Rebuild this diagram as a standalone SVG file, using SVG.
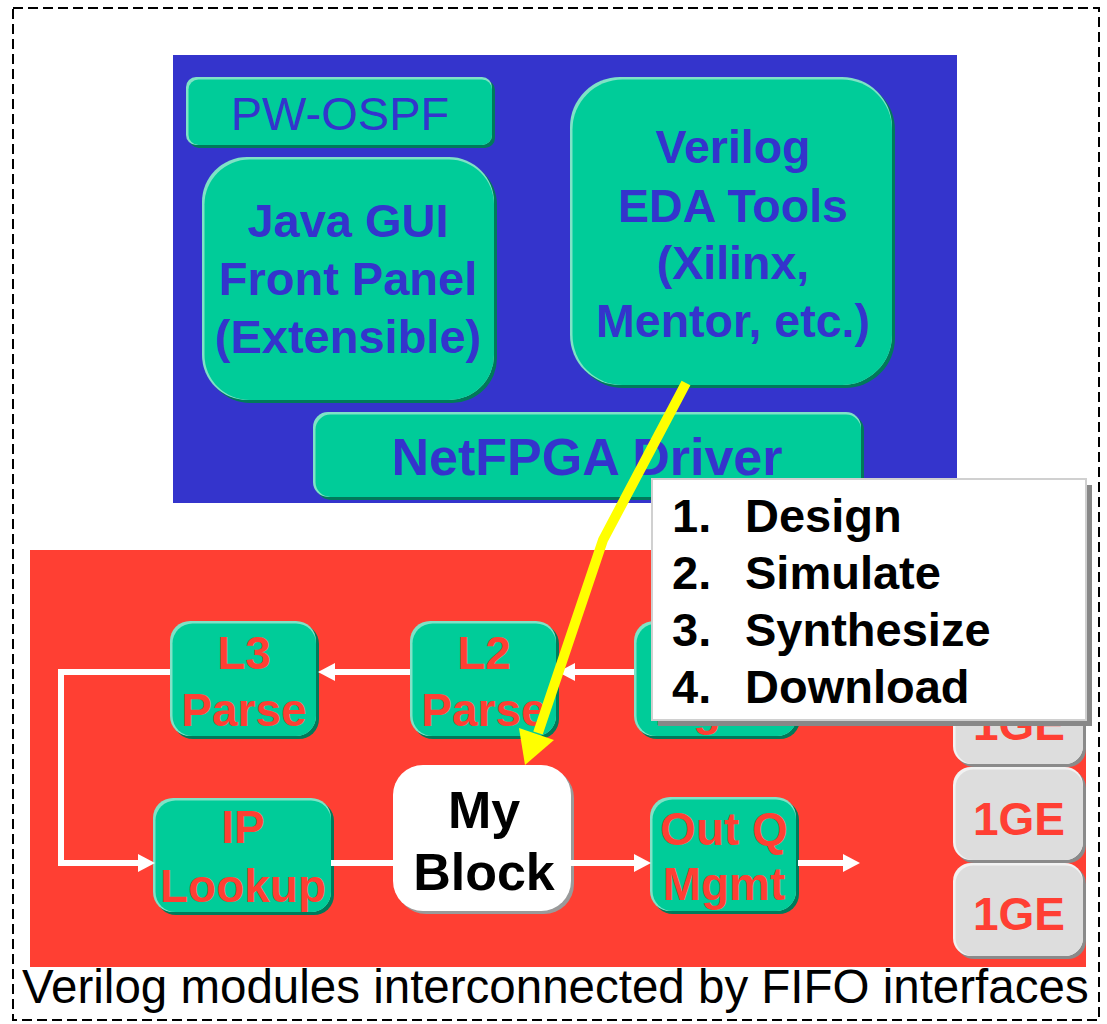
<svg xmlns="http://www.w3.org/2000/svg" width="1107" height="1024" viewBox="0 0 1107 1024">
  <defs>
    <style>
      text { font-family: "Liberation Sans", Arial, sans-serif; text-anchor: middle; }
      .b { font-weight: bold; }
      .blue { fill: #3434CC; }
      .red { fill: #FF3F33; }
      .blk { fill: #000000; }
      .gs { fill: #007A5A; }
      .gl { fill: #7FE2C6; }
      .gm { fill: #00CC99; }
      .ys { fill: #8A8A8A; }
      .yl { fill: #F2F2F2; }
      .ym { fill: #DDDDDD; }
      .wire { fill: none; stroke: #FFFFFF; stroke-width: 6; stroke-linejoin: miter; }
    </style>
    <marker id="head" markerUnits="userSpaceOnUse" markerWidth="17" markerHeight="18" refX="0" refY="9" orient="auto">
      <path d="M0,0 L17,9 L0,18 z" fill="#FFFFFF"/>
    </marker>
  </defs>

  <rect x="0" y="0" width="1107" height="1024" fill="#FFFFFF"/>
  <!-- dashed outline of the whole system -->
  <rect x="13" y="8" width="1086" height="1012" fill="none" stroke="#000000" stroke-width="2" stroke-dasharray="10 5"/>

  <!-- host software panel -->
  <rect id="host" x="173" y="55" width="784" height="448" fill="#3434CC"/>

  <g id="pw-ospf">
    <rect class="gs" x="189" y="80" width="306" height="68" rx="10"/>
    <rect class="gl" x="186" y="77" width="306" height="68" rx="10"/>
    <rect class="gm" x="188.5" y="79.5" width="303.5" height="65.5" rx="10"/>
    <text x="340" y="130" font-size="47" class="blue">PW-OSPF</text>
  </g>

  <g id="java-gui">
    <rect class="gs" x="205" y="160" width="292" height="243" rx="45"/>
    <rect class="gl" x="202" y="157" width="292" height="243" rx="45"/>
    <rect class="gm" x="204.5" y="159.5" width="289.5" height="240.5" rx="45"/>
    <text x="348" y="237" font-size="47" class="b blue">Java GUI</text>
    <text x="348" y="295" font-size="47" class="b blue">Front Panel</text>
    <text x="348" y="353" font-size="47" class="b blue">(Extensible)</text>
  </g>

  <g id="eda-tools">
    <rect class="gs" x="573" y="80" width="322" height="308" rx="50"/>
    <rect class="gl" x="570" y="77" width="322" height="308" rx="50"/>
    <rect class="gm" x="572.5" y="79.5" width="319.5" height="305.5" rx="50"/>
    <text x="733" y="163" font-size="46.5" class="b blue">Verilog</text>
    <text x="733" y="222" font-size="46.5" class="b blue">EDA Tools</text>
    <text x="733" y="279" font-size="46.5" class="b blue">(Xilinx,</text>
    <text x="733" y="337" font-size="46.5" class="b blue">Mentor, etc.)</text>
  </g>

  <g id="driver">
    <rect class="gs" x="316" y="415" width="548" height="85" rx="15"/>
    <rect class="gl" x="313" y="412" width="548" height="85" rx="15"/>
    <rect class="gm" x="315.5" y="414.5" width="545.5" height="82.5" rx="15"/>
    <text x="587" y="475" font-size="52" class="b blue">NetFPGA Driver</text>
  </g>

  <!-- FPGA hardware panel -->
  <rect id="fpga" x="30" y="550" width="1056" height="417" fill="#FF3F33"/>

  <g id="in-q">
    <rect class="gs" x="637" y="624" width="163" height="115" rx="20"/>
    <rect class="gl" x="634" y="621" width="163" height="115" rx="20"/>
    <rect class="gm" x="636.5" y="623.5" width="160.5" height="112.5" rx="20"/>
    <text x="716" y="725" font-size="46" class="b red">Mgmt</text>
  </g>

  <g id="l2-parse">
    <rect class="gs" x="413" y="624" width="146" height="115" rx="20"/>
    <rect class="gl" x="410" y="621" width="146" height="115" rx="20"/>
    <rect class="gm" x="412.5" y="623.5" width="143.5" height="112.5" rx="20"/>
    <text x="484" y="669" font-size="46" class="b red">L2</text>
    <text x="484" y="726" font-size="46" class="b red">Parse</text>
  </g>

  <g id="l3-parse">
    <rect class="gs" x="173" y="624" width="146" height="115" rx="20"/>
    <rect class="gl" x="170" y="621" width="146" height="115" rx="20"/>
    <rect class="gm" x="172.5" y="623.5" width="143.5" height="112.5" rx="20"/>
    <text x="244" y="669" font-size="46" class="b red">L3</text>
    <text x="244" y="726" font-size="46" class="b red">Parse</text>
  </g>

  <g id="ip-lookup">
    <rect class="gs" x="156" y="801" width="178" height="114" rx="20"/>
    <rect class="gl" x="153" y="798" width="178" height="114" rx="20"/>
    <rect class="gm" x="155.5" y="800.5" width="175.5" height="111.5" rx="20"/>
    <text x="243" y="843" font-size="46" class="b red">IP</text>
    <text x="243" y="902" font-size="46" class="b red">Lookup</text>
  </g>

  <g id="my-block">
    <rect x="396" y="768" width="178" height="146" rx="30" fill="#9A9A9A"/>
    <rect x="393" y="765" width="178" height="146" rx="30" fill="#FFFFFF"/>
    <text x="484" y="828" font-size="52" class="b blk">My</text>
    <text x="484" y="890" font-size="52" class="b blk">Block</text>
  </g>

  <g id="out-q">
    <rect class="gs" x="653" y="800" width="146" height="114" rx="20"/>
    <rect class="gl" x="650" y="797" width="146" height="114" rx="20"/>
    <rect class="gm" x="652.5" y="799.5" width="143.5" height="111.5" rx="20"/>
    <text x="724" y="845" font-size="46" class="b red">Out Q</text>
    <text x="724" y="900" font-size="46" class="b red">Mgmt</text>
  </g>

  <g id="port-1">
    <rect class="ys" x="956" y="674" width="130" height="93" rx="18"/>
    <rect class="yl" x="953" y="671" width="130" height="93" rx="18"/>
    <rect class="ym" x="955.5" y="673.5" width="127.5" height="90.5" rx="18"/>
    <text x="1019" y="740" font-size="46" class="b red">1GE</text>
  </g>
  <g id="port-2">
    <rect class="ys" x="956" y="770" width="130" height="93" rx="18"/>
    <rect class="yl" x="953" y="767" width="130" height="93" rx="18"/>
    <rect class="ym" x="955.5" y="769.5" width="127.5" height="90.5" rx="18"/>
    <text x="1019" y="835" font-size="46" class="b red">1GE</text>
  </g>
  <g id="port-3">
    <rect class="ys" x="956" y="866" width="130" height="93" rx="18"/>
    <rect class="yl" x="953" y="863" width="130" height="93" rx="18"/>
    <rect class="ym" x="955.5" y="865.5" width="127.5" height="90.5" rx="18"/>
    <text x="1019" y="930" font-size="46" class="b red">1GE</text>
  </g>

  <!-- FIFO links and the design flow arrow -->
  <g id="connectors">
    <path class="wire" d="M634,672 H575" marker-end="url(#head)"/>
    <path class="wire" d="M410,672 H335" marker-end="url(#head)"/>
    <path class="wire" d="M170,672 H61 V863 H138" marker-end="url(#head)"/>
    <path class="wire" d="M331,863 H393"/>
    <path class="wire" d="M571,863 H634" marker-end="url(#head)"/>
    <path class="wire" d="M798,863 H843" marker-end="url(#head)"/>
    <polyline points="686,383 603,540 538,733" fill="none" stroke="#FFFF00" stroke-width="10" stroke-linejoin="round"/>
    <polygon points="525,765 519,728 554,740" fill="#FFFF00"/>
  </g>

  <g id="steps">
    <rect x="658" y="485" width="434" height="241" fill="#888888"/>
    <rect x="652" y="479" width="434" height="241" fill="#FFFFFF" stroke="#D0D0D0" stroke-width="2"/>
    <g class="b blk" font-size="47">
      <text x="672" y="532" style="text-anchor:start">1.</text>
      <text x="745" y="532" style="text-anchor:start">Design</text>
      <text x="672" y="589" style="text-anchor:start">2.</text>
      <text x="745" y="589" style="text-anchor:start">Simulate</text>
      <text x="672" y="646" style="text-anchor:start">3.</text>
      <text x="745" y="646" style="text-anchor:start">Synthesize</text>
      <text x="672" y="703" style="text-anchor:start">4.</text>
      <text x="745" y="703" style="text-anchor:start">Download</text>
    </g>
  </g>

  <text x="22" y="1003" font-size="47.5" class="blk" style="text-anchor:start">Verilog modules interconnected by FIFO interfaces</text>
</svg>
